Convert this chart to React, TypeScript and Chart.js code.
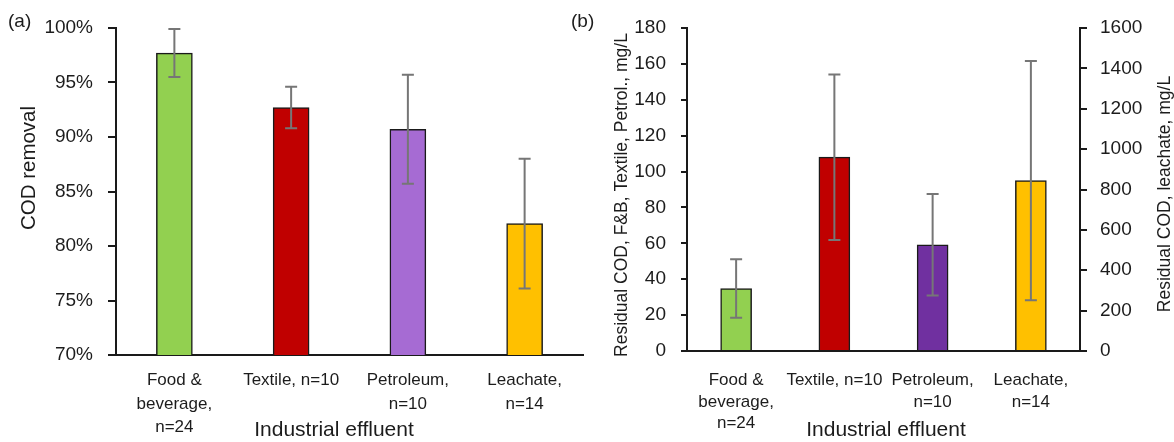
import React, { useEffect, useRef } from "react";
import { Chart, registerables } from "chart.js";

Chart.register(...registerables);

// ---------- data ----------
const categories: (string | string[])[] = [
  ["Food &", "beverage,", "n=24"],
  "Textile, n=10",
  ["Petroleum,", "n=10"],
  ["Leachate,", "n=14"],
];

// Panel (a): COD removal, % (mean and standard deviation)
const removalMean = [97.7, 92.7, 90.7, 82.05];
const removalSd = [2.2, 1.9, 5.0, 5.95];
const removalColors = ["#92D050", "#C00000", "#A66BD3", "#FFC000"];

// Panel (b): residual COD, mg/L
const residualMean = [34.8, 108, 59.2, null];
const residualSd = [16.3, 46.1, 28.3, null];
const leachateMean = [null, null, null, 844];
const leachateSd = [null, null, null, 592];
const residualColors = ["#92D050", "#C00000", "#7030A0", "#FFC000"];

const titleA = "(a)";
const titleB = "(b)";
const yTitleA = "COD removal";
const yTitleB = "Residual COD, F&B, Textile, Petrol., mg/L";
const y2TitleB = "Residual COD, leachate, mg/L";
const xTitle = "Industrial effluent";

const FONT = '"Liberation Sans", Arial, sans-serif';
const TEXT = "#1c1c1c";
const AXIS = "#1a1a1a";

Chart.defaults.font.family = FONT;
Chart.defaults.color = TEXT;

// ---------- plugins ----------
const errorBarPlugin = (cap: number) => ({
  id: "errorBars",
  afterDatasetsDraw(chart: any) {
    const ctx = chart.ctx;
    chart.data.datasets.forEach((ds: any, di: number) => {
      const sd = ds.errorSd;
      if (!sd) return;
      const meta = chart.getDatasetMeta(di);
      const scale = chart.scales[meta.yAxisID];
      meta.data.forEach((el: any, i: number) => {
        const v = ds.data[i];
        const e = sd[i];
        if (v == null || e == null) return;
        const x = el.x;
        const yHi = scale.getPixelForValue(v + e);
        const yLo = scale.getPixelForValue(v - e);
        ctx.save();
        ctx.strokeStyle = "#767676";
        ctx.lineWidth = 2;
        ctx.beginPath();
        ctx.moveTo(x, yHi);
        ctx.lineTo(x, yLo);
        ctx.moveTo(x - cap, yHi);
        ctx.lineTo(x + cap, yHi);
        ctx.moveTo(x - cap, yLo);
        ctx.lineTo(x + cap, yLo);
        ctx.stroke();
        ctx.restore();
      });
    });
  },
});

type TextItem = { text: string; x: number; y: number; size: number; rot?: number; align?: CanvasTextAlign };
const textPlugin = (items: TextItem[]) => ({
  id: "texts",
  afterDraw(chart: any) {
    const ctx = chart.ctx;
    items.forEach((t) => {
      ctx.save();
      ctx.translate(t.x, t.y);
      if (t.rot) ctx.rotate(t.rot);
      ctx.font = `${t.size}px ${FONT}`;
      ctx.fillStyle = TEXT;
      ctx.textAlign = t.align || "center";
      ctx.textBaseline = "middle";
      ctx.fillText(t.text, 0, 0);
      ctx.restore();
    });
  },
});

const yAxisCommon = (tickLength: number) => ({
  grid: { drawOnChartArea: false, drawTicks: true, tickLength, color: AXIS, lineWidth: 2 },
  border: { display: true, color: AXIS, width: 2 },
});

const plain = (v: any) => String(v);

export default function App() {
  const refA = useRef<HTMLCanvasElement>(null);
  const refB = useRef<HTMLCanvasElement>(null);

  useEffect(() => {
    const chartA = new Chart(refA.current!, {
      type: "bar",
      data: {
        labels: categories,
        datasets: [
          {
            data: removalMean,
            errorSd: removalSd,
            backgroundColor: removalColors,
            borderColor: AXIS,
            borderWidth: 1.5,
            barThickness: 36,
          } as any,
        ],
      },
      options: {
        animation: false,
        responsive: true,
        maintainAspectRatio: false,
        layout: { padding: { top: 28, right: 7, left: 0, bottom: 0 } },
        plugins: { legend: { display: false }, tooltip: { enabled: false } },
        scales: {
          x: {
            grid: { display: false, drawTicks: false, tickLength: 0 },
            border: { display: true, color: AXIS, width: 2 },
            ticks: { color: TEXT, font: { size: 17, lineHeight: 1.38 }, padding: 14, maxRotation: 0, autoSkip: false },
            afterFit: (s: any) => {
              s.height = 87;
            },
          },
          y: {
            min: 70,
            max: 100,
            ...yAxisCommon(8),
            ticks: { color: TEXT, font: { size: 19 }, padding: 15, stepSize: 5, callback: (v: any) => v + "%" },
            afterFit: (s: any) => {
              s.width = 116;
            },
          },
        },
      } as any,
      plugins: [
        errorBarPlugin(6),
        textPlugin([
          { text: titleA, x: 8, y: 22, size: 19, align: "left" },
          { text: yTitleA, x: 29, y: 168, size: 20.5, rot: -Math.PI / 2 },
          { text: xTitle, x: 334, y: 430, size: 21 },
        ]),
      ],
    });

    const chartB = new Chart(refB.current!, {
      type: "bar",
      data: {
        labels: categories,
        datasets: [
          {
            data: residualMean,
            errorSd: residualSd,
            backgroundColor: residualColors,
            borderColor: AXIS,
            borderWidth: 1.5,
            barThickness: 31,
            yAxisID: "y",
          } as any,
          {
            data: leachateMean,
            errorSd: leachateSd,
            backgroundColor: residualColors,
            borderColor: AXIS,
            borderWidth: 1.5,
            barThickness: 31,
            yAxisID: "y2",
          } as any,
        ],
      },
      options: {
        animation: false,
        responsive: true,
        maintainAspectRatio: false,
        layout: { padding: { top: 28, right: 0, left: 0, bottom: 0 } },
        datasets: { bar: { grouped: false } },
        plugins: { legend: { display: false }, tooltip: { enabled: false } },
        scales: {
          x: {
            grid: { display: false, drawTicks: false, tickLength: 0 },
            border: { display: true, color: AXIS, width: 2 },
            ticks: { color: TEXT, font: { size: 17, lineHeight: 1.265 }, padding: 19, maxRotation: 0, autoSkip: false },
            afterFit: (s: any) => {
              s.height = 91;
            },
          },
          y: {
            position: "left",
            min: 0,
            max: 180,
            ...yAxisCommon(6),
            ticks: { color: TEXT, font: { size: 19 }, padding: 15, stepSize: 20, callback: plain },
            afterFit: (s: any) => {
              s.width = 127;
            },
          },
          y2: {
            position: "right",
            min: 0,
            max: 1600,
            ...yAxisCommon(7),
            ticks: { color: TEXT, font: { size: 19 }, padding: 13, stepSize: 200, callback: plain },
            afterFit: (s: any) => {
              s.width = 94;
            },
          },
        },
      } as any,
      plugins: [
        errorBarPlugin(6),
        textPlugin([
          { text: titleB, x: 11, y: 22, size: 19, align: "left" },
          { text: yTitleB, x: 62, y: 195, size: 17.5, rot: -Math.PI / 2 },
          { text: y2TitleB, x: 605, y: 194, size: 17.5, rot: -Math.PI / 2 },
          { text: xTitle, x: 326, y: 430, size: 21 },
        ]),
      ],
    });

    return () => {
      chartA.destroy();
      chartB.destroy();
    };
  }, []);

  return (
    <div style={{ position: "absolute", left: 0, top: 0, width: 1174, height: 442, background: "#fff" }}>
      <div style={{ position: "absolute", left: 0, top: 0, width: 590, height: 442 }}>
        <canvas ref={refA} />
      </div>
      <div style={{ position: "absolute", left: 560, top: 0, width: 614, height: 442 }}>
        <canvas ref={refB} />
      </div>
    </div>
  );
}
